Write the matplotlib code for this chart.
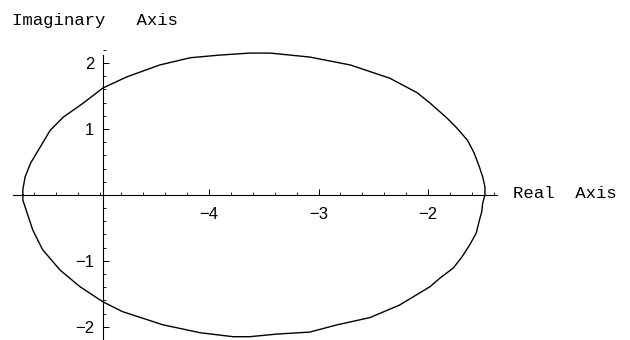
import numpy as np
import matplotlib.pyplot as plt
from matplotlib.ticker import MultipleLocator


# locus traced around, read as (real, imaginary) pairs
re_part = [-5.70, -5.70, -5.68, -5.63, -5.54, -5.45, -5.33, -5.15, -4.97, -4.75,
           -4.45, -4.17, -3.90, -3.63, -3.44, -3.08, -2.71, -2.35, -2.10, -1.98,
           -1.83, -1.74, -1.64, -1.58, -1.53, -1.50, -1.48, -1.48,
           -1.50, -1.51, -1.53, -1.56, -1.62, -1.69, -1.77, -1.89, -1.98, -2.26,
           -2.53, -2.83, -3.08, -3.38, -3.63, -3.78, -4.08, -4.42, -4.79, -4.97,
           -5.18, -5.36, -5.52, -5.61, -5.65, -5.70, -5.70]
im_part = [0.00, 0.08, 0.27, 0.48, 0.73, 0.98, 1.18, 1.39, 1.62, 1.79,
           1.97, 2.08, 2.12, 2.15, 2.15, 2.09, 1.97, 1.77, 1.55, 1.39,
           1.17, 1.02, 0.83, 0.64, 0.42, 0.27, 0.12, 0.00,
           -0.12, -0.26, -0.38, -0.58, -0.76, -0.94, -1.11, -1.26, -1.39, -1.67,
           -1.86, -1.97, -2.08, -2.11, -2.15, -2.15, -2.09, -1.97, -1.77, -1.62,
           -1.39, -1.14, -0.83, -0.53, -0.33, -0.08, 0.00]

x_ticks = [-4, -3, -2]
y_ticks = [-2, -1, 1, 2]


def main():

    fig = plt.figure(figsize=(6.3, 3.4), dpi=100)
    ax = fig.add_axes([13 / 630, 0.0, 484 / 630, 1 - 49.8 / 340])

    ax.plot(re_part, im_part, color='black', lw=1.0, clip_on=False)

    ax.set_xlim(-5.79, -1.37)
    ax.set_ylim(-2.2, 2.2)

    # axes cross at the origin of the plot, Mathematica style
    for side in ['top', 'right']:
        ax.spines[side].set_visible(False)
    ax.spines['left'].set_position(('data', -4.97))
    ax.spines['bottom'].set_position(('data', 0))
    ax.spines['left'].set_bounds(-2.2, 2.12)
    for side in ['left', 'bottom']:
        ax.spines[side].set_linewidth(0.8)

    ax.set_xticks(x_ticks)
    ax.set_yticks(y_ticks)
    ax.xaxis.set_minor_locator(MultipleLocator(0.2))
    ax.yaxis.set_minor_locator(MultipleLocator(0.2))
    ax.tick_params(which='major', direction='in', length=4, width=0.7,
                   labelsize=12, pad=9)
    ax.tick_params(which='minor', direction='in', length=2, width=0.6)
    ax.tick_params(axis='y', pad=6)
    for lbl in ax.get_xticklabels() + ax.get_yticklabels():
        lbl.set_family('Liberation Sans')

    ax.text(513 / 630, 1 - 193 / 340, 'Real  Axis', transform=fig.transFigure,
            family='Liberation Mono', fontsize=12.5, va='center', ha='left')
    ax.text(12 / 630, 1 - 20 / 340, 'Imaginary   Axis', transform=fig.transFigure,
            family='Liberation Mono', fontsize=12.5, va='center', ha='left')

    fig.savefig('out.png', dpi=100)


if __name__ == '__main__':
    main()
